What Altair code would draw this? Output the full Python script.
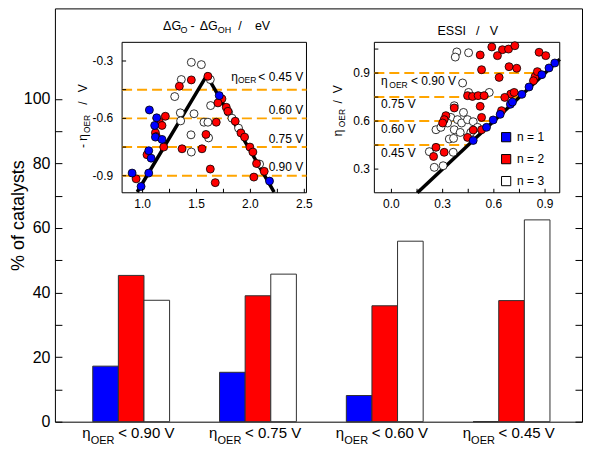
import altair as alt
import pandas as pd

FONT = "Liberation Sans"

# ---------------- main bar chart ----------------
ranges = ["< 0.90 V", "< 0.75 V", "< 0.60 V", "< 0.45 V"]
series = ["n = 1", "n = 2", "n = 3"]
pct_n1 = [17.2, 15.3, 8.1, 0.0]
pct_n2 = [45.3, 39.0, 35.9, 37.5]
pct_n3 = [37.6, 45.7, 55.9, 62.5]
series_colors = ["#0000ff", "#ff0000", "#ffffff"]

# ---------------- volcano inset (x: dG_O - dG_OH, y: -eta) ----------------
volc_n1_x = [1.711, 1.063, 1.131, 1.112, 1.119, 1.180, 1.057, 1.079, 0.903, 1.057, 0.986, 2.177]
volc_n1_y = [-0.481, -0.556, -0.597, -0.637, -0.698, -0.710, -0.769, -0.808, -0.886, -0.886, -0.956, -0.928]
volc_n2_x = [1.606, 1.452, 1.341, 1.736, 1.699, 1.776, 1.791, 1.859, 1.211, 1.156, 1.180, 1.119, 1.128,
             1.683, 1.588, 1.196, 1.366, 1.551, 1.912, 1.946, 1.995, 2.023, 2.057, 2.128, 2.032,
             1.041, 1.628, 1.674, 0.940]
volc_n2_y = [-0.380, -0.399, -0.432, -0.498, -0.519, -0.542, -0.563, -0.615, -0.589, -0.620, -0.637, -0.675, -0.695,
             -0.620, -0.684, -0.750, -0.759, -0.759, -0.676, -0.698, -0.750, -0.776, -0.836, -0.877, -0.907,
             -0.790, -0.865, -0.936, -0.916]
volc_n3_x = [1.452, 1.545, 1.359, 1.298, 1.628, 1.631, 1.350, 1.353, 1.477, 1.569, 1.606, 1.449, 1.612,
             1.452, 1.798, 1.829, 1.890, 2.085]
volc_n3_y = [-0.307, -0.319, -0.397, -0.486, -0.397, -0.533, -0.571, -0.613, -0.576, -0.620, -0.620, -0.686, -0.702,
             -0.776, -0.568, -0.599, -0.651, -0.839]
volc_line_x = [0.95, 1.595, 2.22]
volc_line_y = [-0.985, -0.375, -0.985]
volc_levels = [-0.45, -0.60, -0.75, -0.90]
volc_xticks = [1.0, 1.25, 1.5, 1.75, 2.0, 2.25, 2.5]
volc_xlabel_vals = [1.0, 1.5, 2.0, 2.5]
volc_xlabels = ["1.0", "1.5", "2.0", "2.5"]
volc_yticks = [-0.9, -0.75, -0.6, -0.45, -0.3]
volc_ylabel_vals = [-0.9, -0.6, -0.3]
volc_ylabels = ["-0.9", "-0.6", "-0.3"]

# ---------------- ESSI inset (x: ESSI, y: eta) ----------------
essi_n1_x = [0.479, 0.557, 0.596, 0.637, 0.697, 0.709, 0.764, 0.806, 0.881, 0.923, 0.957]
essi_n1_y = [0.479, 0.561, 0.607, 0.642, 0.705, 0.719, 0.767, 0.813, 0.890, 0.932, 0.963]
essi_n2_x = [0.588, 0.650, 0.686, 0.723, 0.520, 0.621, 0.865, 0.904, 0.528, 0.689, 0.734, 0.631, 0.842, 0.855,
             0.832, 0.446, 0.475, 0.508, 0.543, 0.699, 0.719, 0.664, 0.645, 0.520, 0.368, 0.319, 0.309, 0.300,
             0.528, 0.479, 0.528, 0.446, 0.261, 0.309, 0.247]
essi_n2_y = [1.063, 1.046, 1.050, 1.071, 1.013, 1.009, 1.030, 1.009, 0.921, 0.940, 0.930, 0.873, 0.879, 0.909,
             0.852, 0.759, 0.754, 0.759, 0.759, 0.769, 0.779, 0.748, 0.665, 0.692, 0.682, 0.634, 0.609, 0.588,
             0.623, 0.544, 0.546, 0.498, 0.436, 0.405, 0.379]
essi_n3_x = [0.383, 0.374, 0.452, 0.417, 0.452, 0.573, 0.368, 0.422, 0.348, 0.387, 0.411, 0.446, 0.479, 0.329,
             0.261, 0.290, 0.368, 0.403, 0.465, 0.504, 0.339, 0.364, 0.222, 0.362, 0.251, 0.303]
essi_n3_y = [1.032, 1.000, 1.027, 0.838, 0.779, 0.779, 0.696, 0.654, 0.623, 0.609, 0.588, 0.609, 0.596, 0.588,
             0.546, 0.561, 0.546, 0.529, 0.529, 0.561, 0.488, 0.492, 0.409, 0.405, 0.311, 0.321]
essi_line_x = [0.152, 0.986]
essi_line_y = [0.152, 0.986]
essi_levels = [0.45, 0.60, 0.75, 0.90]
essi_xticks = [0.0, 0.15, 0.3, 0.45, 0.6, 0.75, 0.9]
essi_xlabel_vals = [0.0, 0.3, 0.6, 0.9]
essi_xlabels = ["0.0", "0.3", "0.6", "0.9"]
essi_yticks = [0.3, 0.45, 0.6, 0.75, 0.9, 1.05]
essi_ylabel_vals = [0.3, 0.6, 0.9]
essi_ylabels = ["0.3", "0.6", "0.9"]

# ---------------- layout ----------------
W, H = 528, 414
ORANGE = "#ffa500"

y_main = alt.Scale(domain=[0, 128], nice=False, zero=False)
x_main = alt.Scale(domain=ranges, range=[37.9, 495.9], paddingInner=0.394, paddingOuter=0)
col_scale = alt.Scale(domain=series, range=series_colors)

bars_df = pd.DataFrame({
    "g": ranges * 3,
    "n": [s for s in series for _ in ranges],
    "pct": pct_n1 + pct_n2 + pct_n3,
})

bars = alt.Chart(bars_df).mark_bar(stroke="#303030", strokeWidth=1).encode(
    x=alt.X("g:N", scale=x_main, sort=ranges,
            axis=alt.Axis(labels=False, ticks=False, domain=False, grid=False,
                          title="overpotential range", titleFontSize=16.5, titleFontWeight="normal",
                          titleX=W / 2, titleY=40, titleAlign="center", titleBaseline="alphabetic",
                          titleAngle=0)),
    xOffset=alt.XOffset("n:N", sort=series, scale=alt.Scale(domain=series, paddingInner=0, paddingOuter=0)),
    y=alt.Y("pct:Q", scale=y_main,
            axis=alt.Axis(orient="left", offset=-7, tickSize=7, values=list(range(0, 101, 10)),
                          labelExpr="datum.value % 20 == 0 ? datum.label : ''", labelFontSize=16,
                          labelPadding=5, domain=False, grid=False,
                          title="% of catalysts", titleFontSize=18, titleFontWeight="normal",
                          titleAngle=270, titleX=-38, titleY=H / 2, titleAlign="center",
                          titleBaseline="alphabetic")),
    color=alt.Color("n:N", scale=col_scale,
                    legend=alt.Legend(title=None, orient="none", legendX=446, legendY=123,
                                      symbolType="square", symbolSize=85, symbolStrokeColor="black",
                                      symbolStrokeWidth=1, symbolOpacity=1, labelFontSize=12,
                                      labelOffset=5, rowPadding=8, labelColor="black")),
)

right_ticks = alt.Chart(pd.DataFrame({"pct": [0]})).mark_point(opacity=0).encode(
    y=alt.Y("pct:Q", scale=y_main,
            axis=alt.Axis(orient="right", offset=-7, tickSize=7, values=list(range(0, 101, 10)),
                          labels=False, domain=False, grid=False, title=None)),
)

lab_df = pd.DataFrame({"g": ranges, "pct": [0] * len(ranges)})


def main_label(const_text, dx, dy, size):
    mk = dict(font=FONT, fontSize=size, align="left", baseline="alphabetic", dx=dx, dy=dy, color="black")
    if const_text is not None:
        mk["text"] = const_text
    ch = alt.Chart(lab_df).mark_text(**mk)
    enc = dict(x=alt.X("g:N", scale=x_main, sort=ranges, axis=None, bandPosition=0.5),
               y=alt.Y("pct:Q", scale=y_main, axis=None))
    if const_text is None:
        enc["text"] = alt.Text("g:N")
    return ch.encode(**enc)


main = alt.layer(
    bars, right_ticks,
    main_label("η", -49, 16, 15),
    main_label("OER", -40.5, 22.5, 11),
    main_label(None, -13, 16, 15),
).resolve_axis(y="independent")


def text_layers(items, xs, ys, angle=0):
    out = []
    for (t, x, y, dx, dy, size, align) in items:
        out.append(
            alt.Chart(pd.DataFrame({"x": [x], "y": [y], "t": [t]})).mark_text(
                font=FONT, fontSize=size, align=align, baseline="alphabetic",
                dx=dx, dy=dy, angle=angle, color="black"
            ).encode(x=alt.X("x:Q", scale=xs, axis=None),
                     y=alt.Y("y:Q", scale=ys, axis=None),
                     text="t:N")
        )
    return out


def points_df(xs_list, ys_list):
    rows = []
    for name, xv, yv in zip(series[::-1], xs_list[::-1], ys_list[::-1]):
        for a, b in zip(xv, yv):
            rows.append({"x": a, "y": b, "n": name})
    return pd.DataFrame(rows)


def inset_frame(xs, ys, xdom, ydom):
    return alt.Chart(pd.DataFrame({"x": [xdom[0]], "x2": [xdom[1]], "y": [ydom[0]], "y2": [ydom[1]]})).mark_rect(
        fill="white", stroke="black", strokeWidth=1
    ).encode(x=alt.X("x:Q", scale=xs, axis=None), x2="x2",
             y=alt.Y("y:Q", scale=ys, axis=None), y2="y2")


def inset_ticks(xs, ys, xdom, ydom, xt, xlv, xl, yt, ylv, yl, ylab_dx):
    xtick = alt.Chart(pd.DataFrame({"x": xt, "y": ydom[0], "y2": ydom[0]})).mark_rule(
        color="black", strokeWidth=1, y2Offset=-4
    ).encode(x=alt.X("x:Q", scale=xs, axis=None), y=alt.Y("y:Q", scale=ys, axis=None), y2="y2")
    ytick = alt.Chart(pd.DataFrame({"y": yt, "x": xdom[0], "x2": xdom[0]})).mark_rule(
        color="black", strokeWidth=1, x2Offset=4
    ).encode(y=alt.Y("y:Q", scale=ys, axis=None), x=alt.X("x:Q", scale=xs, axis=None), x2="x2")
    xlab = alt.Chart(pd.DataFrame({"x": xlv, "y": ydom[0], "t": xl})).mark_text(
        font=FONT, fontSize=12, align="center", baseline="alphabetic", dy=15, color="black"
    ).encode(x=alt.X("x:Q", scale=xs, axis=None), y=alt.Y("y:Q", scale=ys, axis=None), text="t:N")
    ylab = alt.Chart(pd.DataFrame({"y": ylv, "x": xdom[0], "t": yl})).mark_text(
        font=FONT, fontSize=12, align="right", baseline="middle", dx=ylab_dx, color="black"
    ).encode(x=alt.X("x:Q", scale=xs, axis=None), y=alt.Y("y:Q", scale=ys, axis=None), text="t:N")
    return [xtick, ytick, xlab, ylab]


# ---------------- inset 1: volcano ----------------
V_X = [0.81, 2.52]
V_Y = [-0.989, -0.2025]
xs1 = alt.Scale(domain=V_X, range=[67.3, 252.0], nice=False, zero=False)
ys1 = alt.Scale(domain=V_Y, range=[184.7, 34.0], nice=False, zero=False)

frame1 = inset_frame(xs1, ys1, V_X, V_Y)
ticks1 = inset_ticks(xs1, ys1, V_X, V_Y, volc_xticks, volc_xlabel_vals, volc_xlabels,
                     volc_yticks, volc_ylabel_vals, volc_ylabels, -9)

rules1 = alt.Chart(pd.DataFrame({"v": volc_levels, "x": V_X[0], "x2": V_X[1]})).mark_rule(
    color=ORANGE, strokeDash=[10, 5], strokeWidth=2
).encode(x=alt.X("x:Q", scale=xs1, axis=None), x2="x2", y=alt.Y("v:Q", scale=ys1, axis=None))

line1 = alt.Chart(pd.DataFrame({"x": volc_line_x, "y": volc_line_y})).mark_line(
    color="black", strokeWidth=3.5
).encode(x=alt.X("x:Q", scale=xs1, axis=None), y=alt.Y("y:Q", scale=ys1, axis=None))

pts1 = alt.Chart(points_df([volc_n1_x, volc_n2_x, volc_n3_x], [volc_n1_y, volc_n2_y, volc_n3_y])).mark_circle(
    size=64, stroke="black", strokeWidth=0.8, opacity=1
).encode(x=alt.X("x:Q", scale=xs1, axis=None), y=alt.Y("y:Q", scale=ys1, axis=None),
         color=alt.Color("n:N", scale=col_scale, legend=None))

txt1 = text_layers([
    ("< 0.45 V", 2.49, -0.402, 0, 0, 12, "right"),
    ("OER", 2.49, -0.402, -47, 3, 8.5, "right"),
    ("η", 2.49, -0.402, -65.5, 0, 12, "right"),
    ("0.60 V", 2.49, -0.578, 0, 0, 12, "right"),
    ("0.75 V", 2.49, -0.728, 0, 0, 12, "right"),
    ("0.90 V", 2.49, -0.877, 0, 0, 12, "right"),
    ("ΔG", 1.19, -0.140, 0, 0, 12.5, "left"),
    ("O", 1.19, -0.140, 17.5, 3, 9, "left"),
    ("-", 1.19, -0.140, 29.5, 0, 12.5, "center"),
    ("ΔG", 1.19, -0.140, 36.7, 0, 12.5, "left"),
    ("OH", 1.19, -0.140, 54.8, 3, 9, "left"),
    ("/", 1.19, -0.140, 77, 0, 12.5, "center"),
    ("eV", 1.19, -0.140, 92, 0, 12.5, "left"),
], xs1, ys1)
ytitle1 = text_layers([
    ("- η", 0.483, -0.591, -31.5, 0, 12, "left"),
    ("OER", 0.483, -0.591, -16.5, 3, 8.5, "left"),
    ("/", 0.483, -0.591, 13.5, 0, 12, "center"),
    ("V", 0.483, -0.591, 24.5, 0, 12, "left"),
], xs1, ys1, angle=270)

inset1 = alt.layer(frame1, rules1, line1, pts1, *ticks1, *txt1, *ytitle1)

# ---------------- inset 2: ESSI ----------------
E_X = [-0.1, 0.986]
E_Y = [0.152, 1.092]
xs2 = alt.Scale(domain=E_X, range=[320.0, 505.7], nice=False, zero=False)
ys2 = alt.Scale(domain=E_Y, range=[184.7, 34.0], nice=False, zero=False)

frame2 = inset_frame(xs2, ys2, E_X, E_Y)
ticks2 = inset_ticks(xs2, ys2, E_X, E_Y, essi_xticks, essi_xlabel_vals, essi_xlabels,
                     essi_yticks, essi_ylabel_vals, essi_ylabels, -4.5)

rules2 = alt.Chart(pd.DataFrame({"v": essi_levels, "x": E_X[0], "x2": essi_levels})).mark_rule(
    color=ORANGE, strokeDash=[10, 5], strokeWidth=2
).encode(x=alt.X("x:Q", scale=xs2, axis=None), x2="x2", y=alt.Y("v:Q", scale=ys2, axis=None))

line2 = alt.Chart(pd.DataFrame({"x": essi_line_x, "y": essi_line_y})).mark_line(
    color="black", strokeWidth=3.5
).encode(x=alt.X("x:Q", scale=xs2, axis=None), y=alt.Y("y:Q", scale=ys2, axis=None))

pts2 = alt.Chart(points_df([essi_n1_x, essi_n2_x, essi_n3_x], [essi_n1_y, essi_n2_y, essi_n3_y])).mark_circle(
    size=64, stroke="black", strokeWidth=0.8, opacity=1
).encode(x=alt.X("x:Q", scale=xs2, axis=None), y=alt.Y("y:Q", scale=ys2, axis=None),
         color=alt.Color("n:N", scale=col_scale, legend=None))

txt2 = text_layers([
    ("η", -0.061, 0.825, 0, 0, 12, "left"),
    ("OER", -0.061, 0.825, 8.3, 3, 8.5, "left"),
    ("< 0.90 V", -0.061, 0.825, 30, 0, 12, "left"),
    ("0.75 V", -0.061, 0.679, 0, 0, 12, "left"),
    ("0.60 V", -0.061, 0.525, 0, 0, 12, "left"),
    ("0.45 V", -0.061, 0.373, 0, 0, 12, "left"),
    ("ESSI", 0.270, 1.140, 0, 0, 12.5, "left"),
    ("/", 0.270, 1.140, 40.2, 0, 12.5, "center"),
    ("V", 0.270, 1.140, 52.4, 0, 12.5, "left"),
], xs2, ys2)
ytitle2 = text_layers([
    ("η", -0.287, 0.664, -25.5, 0, 12, "left"),
    ("OER", -0.287, 0.664, -16.5, 3, 8.5, "left"),
    ("/", -0.287, 0.664, 9, 0, 12, "center"),
    ("V", -0.287, 0.664, 17.5, 0, 12, "left"),
], xs2, ys2, angle=270)

inset2 = alt.layer(frame2, rules2, line2, pts2, *ticks2, *txt2, *ytitle2)

chart = alt.layer(main, inset1, inset2).resolve_scale(
    x="independent", y="independent"
).properties(
    width=W, height=H,
    autosize=alt.AutoSizeParams(type="none"),
    padding={"left": 47, "top": 0, "right": 1, "bottom": 48},
).configure(font=FONT).configure_view(
    stroke="black", strokeWidth=1
).configure_axis(
    labelColor="black", tickColor="black", titleColor="black",
    labelFont=FONT, titleFont=FONT, labelFlush=False, labelOverlap=False
)

chart.save("out.html", embed_options={"renderer": "svg", "actions": False})
